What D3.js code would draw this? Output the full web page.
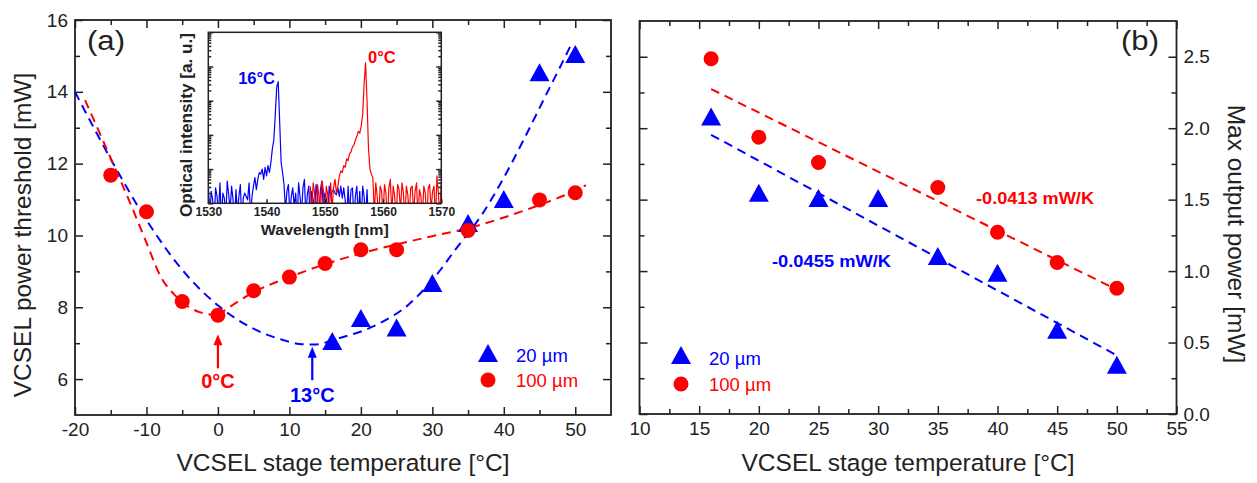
<!DOCTYPE html>
<html><head><meta charset="utf-8">
<script src="https://d3js.org/d3.v7.min.js"></script>
<style>
body{margin:0;background:#fff;}
svg text{font-family:"Liberation Sans",Arial,Helvetica,sans-serif;}
</style></head>
<body>
<svg id="chart" width="1257" height="483"></svg>
<script>
// ---------------- data ----------------
// Panel (a): threshold vs stage temperature
const tempA20 = [16, 20, 25, 30, 35, 40, 45, 50];
const thrA20 = [6.98, 7.62, 7.35, 8.59, 10.26, 10.93, 14.46, 14.97];
const tempA100 = [-15, -10, -5, 0, 5, 10, 15, 20, 25, 35, 45, 50];
const thrA100 = [11.68, 10.66, 8.16, 7.78, 8.46, 8.84, 9.22, 9.6, 9.6, 10.14, 10.99, 11.19];

// dashed guide curves
const fitA20T = [-20, -14.7, -10, -4.6, 0.2, 2.1, 4.9, 9.1, 11.4, 13.3, 17, 22.6, 26.7, 30.5, 33.2, 37, 39.7, 43, 45.8, 48.6, 49.5];
const fitA20V = [14.0, 12.02, 10.43, 8.95, 8.02, 7.74, 7.41, 7.09, 6.98, 6.96, 7.14, 7.55, 8.08, 8.88, 9.6, 10.6, 11.5, 12.75, 13.87, 14.98, 15.35];
const fitA100LT = [-18.6, -15, -12, -10, -8, -6, -4, -2, 0];
const fitA100LV = [13.77, 12.15, 10.77, 9.8, 8.85, 8.33, 8.0, 7.83, 7.78];
const fitA100RT = [0, 5, 10, 15, 20, 25, 30, 35, 40, 45, 50, 51.5];
const fitA100RV = [7.78, 8.42, 8.84, 9.2, 9.5, 9.75, 9.98, 10.2, 10.5, 10.85, 11.25, 11.4];

// Panel (b): max output power vs stage temperature
const tempB20 = [16, 20, 25, 30, 35, 40, 45, 50];
const powB20 = [2.06, 1.527, 1.49, 1.49, 1.085, 0.968, 0.569, 0.324];
const tempB100 = [16, 20, 25, 35, 40, 45, 50];
const powB100 = [2.486, 1.937, 1.76, 1.585, 1.272, 1.06, 0.88];
const fitB20T = [16, 50];
const fitB20V = [1.954, 0.41];
const fitB100T = [16, 50];
const fitB100V = [2.274, 0.87];

// Inset: optical spectra (decades above the plot floor), 0.25 nm sampling
const specStep = 0.25;
const spec16Start = 1530;
const spec16 = [
  0.55,-0.4,0.35,0.1,-0.6,0.45,0.2,-0.3,0.6,-0.5,
  0.3,0.15,-0.4,0.65,0.25,-0.2,0.5,0.1,-0.6,0.4,
  -0.3,0.2,0.55,-0.5,0.15,0.3,0.2,0.1,0.6,-0.4,
  0.2,0.5,0.75,0.4,0.7,0.9,
  0.85,1.0,0.7,1.05,0.8,1.1,0.9,1.2,1.6,1.85,
  2.6,3.4,3.56,2.4,1.2,0.9,0.55,-0.2,0.35,0.55,
  -0.3,0.2,0.45,-0.1,
  0.3,-0.5,0.6,0.2,-0.3,0.45,0.7,-0.4,0.25,0.5,
  -0.6,0.35,0.1,-0.3,0.55,0.2,-0.5,0.4,0.65,-0.2,
  0.3,0.15,-0.4,0.5,0.2,0.35,0.4,0.3,0.25,0.45,
  0.2,0.5,0.15,0.45,0.1,-0.6,0.5,-0.3,0.4,0.45,
  -0.5,0.2,0.5,-0.4,0.35,-0.6,0.5,0.2,-0.5,0.4,
  -0.6
];
const spec0Start = 1547.5;
const spec0 = [
  0.5,-0.4,0.6,0.3,-0.5,0.55,0.2,-0.3,0.65,0.4,
  -0.6,0.5,0.25,-0.4,0.6,-0.2,0.45,0.7,0.3,0.5,
  0.8,0.95,0.9,1.1,1.05,1.3,1.25,1.45,1.5,1.65,
  1.7,1.85,1.95,2.1,2.05,2.25,2.6,3.5,4.11,3.0,
  1.6,1.0,0.85,0.75,
  -0.3,0.6,0.2,-0.5,0.5,0.35,-0.4,0.55,0.3,-0.6,
  0.45,0.7,-0.3,0.5,0.2,-0.5,0.55,0.4,-0.2,0.6,
  0.3,-0.6,0.5,0.25,-0.4,0.45,0.5,-0.3,0.35,0.6,
  -0.5,0.4,0.2,-0.4,0.5,0.3,-0.6,0.45,0.55,-0.2,
  0.35,0.5,-0.5,0.8,0.3,-0.4,0.6
];

// tick values
const ticksAX = [-20, -10, 0, 10, 20, 30, 40, 50];
const minorAX = [-15, -5, 5, 15, 25, 35, 45];
const ticksAY = [6, 8, 10, 12, 14, 16];
const minorAY = [7, 9, 11, 13, 15];
const ticksBX = [10, 15, 20, 25, 30, 35, 40, 45, 50, 55];
const minorBX = [12.5, 17.5, 22.5, 27.5, 32.5, 37.5, 42.5, 47.5, 52.5];
const ticksBY = [0, 0.5, 1.0, 1.5, 2.0, 2.5];
const minorBY = [0.25, 0.75, 1.25, 1.75, 2.25];
const ticksIX = [1530, 1540, 1550, 1560, 1570];
const decadesI = [0, 1, 2, 3, 4, 5];

const BLUE = "#0000ff", RED = "#ff0000", INK = "#222";

// ---------------- layout ----------------
const svg = d3.select("#chart");
const A = {l: 75, r: 611, t: 20, b: 415};
const B = {l: 639.5, r: 1176.5, t: 21, b: 414};
const I = {l: 208.3, r: 441.3, t: 32.3, b: 203.3};

const xA = d3.scaleLinear().domain([-20, 55]).range([A.l, A.r]);
const yA = d3.scaleLinear().domain([5, 16]).range([A.b, A.t]);
const xB = d3.scaleLinear().domain([10, 55]).range([B.l, B.r]);
const yB = d3.scaleLinear().domain([0, 2.75]).range([B.b, B.t]);
const xI = d3.scaleLinear().domain([1530, 1570]).range([I.l, I.r]);
const yI = d3.scaleLinear().domain([0, 5]).range([I.b, I.t]);

function axis(gen, tr, vals, size, fmt, pad, fs, bold) {
  const g = svg.append("g").attr("transform", tr)
    .call(gen.tickValues(vals).tickSize(size).tickSizeOuter(0)
      .tickPadding(pad || 8).tickFormat(fmt || (() => "")));
  g.select(".domain").remove();
  g.selectAll("line").attr("stroke", INK).attr("stroke-width", 1.5);
  g.selectAll("text").attr("font-size", fs || 19).attr("fill", INK)
    .attr("font-weight", bold ? "bold" : null);
  return g;
}

const triPath = "M0,-12L10,6L-10,6Z";

// ---------------- panel (a) ----------------
const fmtInt = d => String(d);
axis(d3.axisBottom(xA), `translate(0,${A.b})`, ticksAX, -8, fmtInt, 8);
axis(d3.axisBottom(xA), `translate(0,${A.b})`, minorAX, -5);
axis(d3.axisTop(xA), `translate(0,${A.t})`, ticksAX, -8);
axis(d3.axisTop(xA), `translate(0,${A.t})`, minorAX, -5);
axis(d3.axisLeft(yA), `translate(${A.l},0)`, ticksAY, -8, fmtInt, 7);
axis(d3.axisLeft(yA), `translate(${A.l},0)`, minorAY, -5);
axis(d3.axisRight(yA), `translate(${A.r},0)`, ticksAY, -8);
axis(d3.axisRight(yA), `translate(${A.r},0)`, minorAY, -5);
svg.append("rect").attr("x", A.l).attr("y", A.t).attr("width", A.r - A.l).attr("height", A.b - A.t)
  .attr("fill", "none").attr("stroke", INK).attr("stroke-width", 1.8);

svg.append("clipPath").attr("id", "clipA").append("rect")
  .attr("x", A.l).attr("y", A.t).attr("width", A.r - A.l).attr("height", A.b - A.t);
const gA = svg.append("g").attr("clip-path", "url(#clipA)");

const lineA = d3.line().curve(d3.curveMonotoneX).x(d => xA(d[0])).y(d => yA(d[1]));
gA.append("path").datum(d3.zip(fitA20T, fitA20V)).attr("d", lineA)
  .attr("fill", "none").attr("stroke", BLUE).attr("stroke-width", 2).attr("stroke-dasharray", "9,6");
gA.append("path").datum(d3.zip(fitA100LT, fitA100LV)).attr("d", lineA)
  .attr("fill", "none").attr("stroke", RED).attr("stroke-width", 2).attr("stroke-dasharray", "9,6");
gA.append("path").datum(d3.zip(fitA100RT, fitA100RV)).attr("d", lineA)
  .attr("fill", "none").attr("stroke", RED).attr("stroke-width", 2).attr("stroke-dasharray", "9,6");

gA.selectAll("path.triA").data(d3.zip(tempA20, thrA20)).join("path").attr("class", "triA")
  .attr("d", triPath).attr("fill", BLUE)
  .attr("transform", d => `translate(${xA(d[0])},${yA(d[1])})`);
gA.selectAll("circle.cirA").data(d3.zip(tempA100, thrA100)).join("circle").attr("class", "cirA")
  .attr("cx", d => xA(d[0])).attr("cy", d => yA(d[1])).attr("r", 7.5).attr("fill", RED);

// arrows + labels
function arrow(x, yTail, yTip, color) {
  svg.append("line").attr("x1", x).attr("x2", x).attr("y1", yTail).attr("y2", yTip + 8)
    .attr("stroke", color).attr("stroke-width", 2.2);
  svg.append("path").attr("d", `M${x},${yTip}L${x - 4.5},${yTip + 11}L${x + 4.5},${yTip + 11}Z`).attr("fill", color);
}
arrow(xA(0), yA(6.3), yA(7.25), RED);
arrow(xA(13.2), yA(5.97), yA(6.9), BLUE);
svg.append("text").attr("x", xA(0)).attr("y", yA(5.75)).attr("text-anchor", "middle")
  .attr("font-size", 20).attr("font-weight", "bold").attr("fill", RED).text("0°C");
svg.append("text").attr("x", xA(13.2)).attr("y", yA(5.37)).attr("text-anchor", "middle")
  .attr("font-size", 20).attr("font-weight", "bold").attr("fill", BLUE).text("13°C");

svg.append("text").attr("x", 87).attr("y", 50).attr("font-size", 27).attr("fill", INK)
  .attr("textLength", 38).attr("lengthAdjust", "spacingAndGlyphs").text("(a)");

// legend (a)
svg.append("path").attr("d", triPath).attr("fill", BLUE).attr("transform", "translate(488,356)");
svg.append("circle").attr("cx", 488).attr("cy", 380).attr("r", 7.5).attr("fill", RED);
svg.append("text").attr("x", 516).attr("y", 362).attr("font-size", 18.5).attr("fill", BLUE).text("20 µm");
svg.append("text").attr("x", 516).attr("y", 386.5).attr("font-size", 18.5).attr("fill", RED).text("100 µm");

// titles (a)
svg.append("text").attr("x", (A.l + A.r) / 2).attr("y", 471).attr("text-anchor", "middle")
  .attr("font-size", 24.5).attr("fill", INK).text("VCSEL stage temperature [°C]");
svg.append("text").attr("transform", "translate(30.5,235) rotate(-90)").attr("text-anchor", "middle")
  .attr("font-size", 24.5).attr("fill", INK).text("VCSEL power threshold [mW]");

// ---------------- inset ----------------
svg.append("rect").attr("x", I.l).attr("y", I.t).attr("width", I.r - I.l).attr("height", I.b - I.t)
  .attr("fill", "#fff");
svg.append("clipPath").attr("id", "clipI").append("rect")
  .attr("x", I.l).attr("y", I.t).attr("width", I.r - I.l).attr("height", I.b - I.t);
const gI = svg.append("g").attr("clip-path", "url(#clipI)");
const lineI = (start) => d3.line().x((v, i) => xI(start + i * specStep)).y(v => yI(v));
gI.append("path").datum(spec16).attr("d", lineI(spec16Start))
  .attr("fill", "none").attr("stroke", BLUE).attr("stroke-width", 1.2).attr("stroke-linejoin", "round");
gI.append("path").datum(spec0).attr("d", lineI(spec0Start))
  .attr("fill", "none").attr("stroke", RED).attr("stroke-width", 1.2).attr("stroke-linejoin", "round");

const minorI = [];
decadesI.slice(0, -1).forEach(d => [2,3,4,5,6,7,8,9].forEach(k => minorI.push(d + Math.log10(k))));
axis(d3.axisLeft(yI), `translate(${I.l},0)`, decadesI, -5);
axis(d3.axisLeft(yI), `translate(${I.l},0)`, minorI, -3);
axis(d3.axisRight(yI), `translate(${I.r},0)`, decadesI, -5);
axis(d3.axisRight(yI), `translate(${I.r},0)`, minorI, -3);
axis(d3.axisBottom(xI), `translate(0,${I.b})`, ticksIX, -4, fmtInt, 4, 12, true);
svg.append("rect").attr("x", I.l).attr("y", I.t).attr("width", I.r - I.l).attr("height", I.b - I.t)
  .attr("fill", "none").attr("stroke", INK).attr("stroke-width", 1.5);

svg.append("text").attr("x", (I.l + I.r) / 2).attr("y", 235).attr("text-anchor", "middle")
  .attr("font-size", 15).attr("font-weight", "bold").attr("fill", INK)
  .attr("textLength", 128).attr("lengthAdjust", "spacingAndGlyphs").text("Wavelength [nm]");
svg.append("text").attr("transform", "translate(192,125) rotate(-90)").attr("text-anchor", "middle")
  .attr("font-size", 16).attr("font-weight", "bold").attr("fill", INK)
  .attr("textLength", 184).attr("lengthAdjust", "spacingAndGlyphs").text("Optical intensity [a. u.]");
svg.append("text").attr("x", 275).attr("y", 83.5).attr("text-anchor", "end")
  .attr("font-size", 16.5).attr("font-weight", "bold").attr("fill", BLUE).text("16°C");
svg.append("text").attr("x", 368).attr("y", 62.5)
  .attr("font-size", 16.5).attr("font-weight", "bold").attr("fill", RED).text("0°C");

// ---------------- panel (b) ----------------
const fmt1 = d3.format(".1f");
axis(d3.axisBottom(xB), `translate(0,${B.b})`, ticksBX, -8, fmtInt, 8);
axis(d3.axisBottom(xB), `translate(0,${B.b})`, minorBX, -5);
axis(d3.axisTop(xB), `translate(0,${B.t})`, ticksBX, -8);
axis(d3.axisTop(xB), `translate(0,${B.t})`, minorBX, -5);
axis(d3.axisRight(yB), `translate(${B.r},0)`, ticksBY, -8, fmt1, 7);
axis(d3.axisRight(yB), `translate(${B.r},0)`, minorBY, -5);
axis(d3.axisLeft(yB), `translate(${B.l},0)`, ticksBY, -8);
axis(d3.axisLeft(yB), `translate(${B.l},0)`, minorBY, -5);
svg.append("rect").attr("x", B.l).attr("y", B.t).attr("width", B.r - B.l).attr("height", B.b - B.t)
  .attr("fill", "none").attr("stroke", INK).attr("stroke-width", 1.8);

const lineB = d3.line().x(d => xB(d[0])).y(d => yB(d[1]));
svg.append("path").datum(d3.zip(fitB100T, fitB100V)).attr("d", lineB)
  .attr("fill", "none").attr("stroke", RED).attr("stroke-width", 2).attr("stroke-dasharray", "9,6");
svg.append("path").datum(d3.zip(fitB20T, fitB20V)).attr("d", lineB)
  .attr("fill", "none").attr("stroke", BLUE).attr("stroke-width", 2).attr("stroke-dasharray", "9,6");
svg.selectAll("path.triB").data(d3.zip(tempB20, powB20)).join("path").attr("class", "triB")
  .attr("d", triPath).attr("fill", BLUE)
  .attr("transform", d => `translate(${xB(d[0])},${yB(d[1])})`);
svg.selectAll("circle.cirB").data(d3.zip(tempB100, powB100)).join("circle").attr("class", "cirB")
  .attr("cx", d => xB(d[0])).attr("cy", d => yB(d[1])).attr("r", 7.5).attr("fill", RED);

svg.append("text").attr("x", 976).attr("y", 204).attr("font-size", 16).attr("font-weight", "bold")
  .attr("fill", RED).attr("textLength", 118).attr("lengthAdjust", "spacingAndGlyphs").text("-0.0413 mW/K");
svg.append("text").attr("x", 772).attr("y", 267).attr("font-size", 16).attr("font-weight", "bold")
  .attr("fill", BLUE).attr("textLength", 119).attr("lengthAdjust", "spacingAndGlyphs").text("-0.0455 mW/K");

svg.append("text").attr("x", 1121).attr("y", 50).attr("font-size", 27).attr("fill", INK)
  .attr("textLength", 38).attr("lengthAdjust", "spacingAndGlyphs").text("(b)");

// legend (b)
svg.append("path").attr("d", triPath).attr("fill", BLUE).attr("transform", "translate(681,358)");
svg.append("circle").attr("cx", 681).attr("cy", 384).attr("r", 7.5).attr("fill", RED);
svg.append("text").attr("x", 709).attr("y", 365).attr("font-size", 18.5).attr("fill", BLUE).text("20 µm");
svg.append("text").attr("x", 709).attr("y", 390.5).attr("font-size", 18.5).attr("fill", RED).text("100 µm");

svg.append("text").attr("x", (B.l + B.r) / 2).attr("y", 471).attr("text-anchor", "middle")
  .attr("font-size", 24.5).attr("fill", INK).text("VCSEL stage temperature [°C]");
svg.append("text").attr("transform", "translate(1228,234) rotate(90)").attr("text-anchor", "middle")
  .attr("font-size", 24.5).attr("fill", INK).text("Max output power [mW]");
</script>
</body></html>
